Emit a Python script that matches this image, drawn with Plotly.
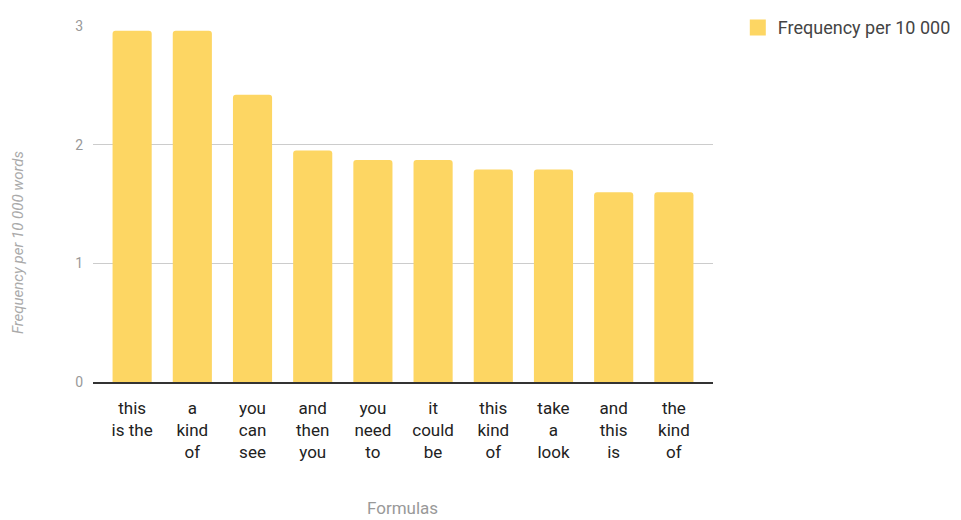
import plotly.graph_objects as go

categories = ["this<br>is the", "a<br>kind<br>of", "you<br>can<br>see", "and<br>then<br>you",
              "you<br>need<br>to", "it<br>could<br>be", "this<br>kind<br>of", "take<br>a<br>look",
              "and<br>this<br>is", "the<br>kind<br>of"]
values = [2.96, 2.96, 2.42, 1.95, 1.87, 1.87, 1.79, 1.79, 1.60, 1.60]
series_name = "Frequency per 10 000"
y_ticks = [0, 1, 2, 3]
x_title = "Formulas"
y_title = "Frequency per 10 000 words"

FONT = "Roboto, Arial, sans-serif"
BAR_COLOR = "#FDD663"

fig = go.Figure()
fig.add_trace(go.Bar(
    x=categories, y=values, name=series_name,
    marker=dict(color=BAR_COLOR, line=dict(width=0), cornerradius=3),
    showlegend=False,
))
# legend entry with a larger square swatch
fig.add_trace(go.Scatter(
    x=[None], y=[None], mode="markers", name=series_name,
    marker=dict(symbol="square", size=16, color=BAR_COLOR),
    showlegend=True, hoverinfo="skip",
))

fig.update_layout(
    width=961, height=520,
    margin=dict(l=93, r=248, t=26, b=138, autoexpand=False),
    paper_bgcolor="white", plot_bgcolor="white",
    bargap=0.35,
    font=dict(family=FONT),
    showlegend=True,
    legend=dict(x=1.040, y=1.047, xanchor="left", yanchor="top",
                font=dict(size=18, color="#444", family=FONT),
                itemsizing="trace", bgcolor="rgba(0,0,0,0)"),
    xaxis=dict(
        range=[-0.65, len(categories) - 0.35],
        tickfont=dict(size=17, color="#222", family=FONT),
        showline=True, linecolor="#333", linewidth=1.5,
        ticks="", showgrid=False, ticklabelstandoff=10,
        automargin=False,
    ),
    yaxis=dict(
        range=[0, 3], tickvals=y_ticks,
        tickfont=dict(size=14, color="#999", family=FONT),
        gridcolor="#ccc", gridwidth=1, zeroline=False,
        ticks="", ticklabelstandoff=9,
        automargin=False,
    ),
    annotations=[
        dict(text=x_title, xref="paper", yref="paper", x=0.499, y=-0.353,
             xanchor="center", yanchor="middle", showarrow=False,
             font=dict(size=17, color="#999", family=FONT)),
        dict(text="<i>" + y_title + "</i>", xref="paper", yref="paper", x=-0.121, y=0.393,
             xanchor="center", yanchor="middle", showarrow=False, textangle=-90,
             font=dict(size=15, color="#aaa", family=FONT)),
    ],
)

fig.write_html("out.html")
